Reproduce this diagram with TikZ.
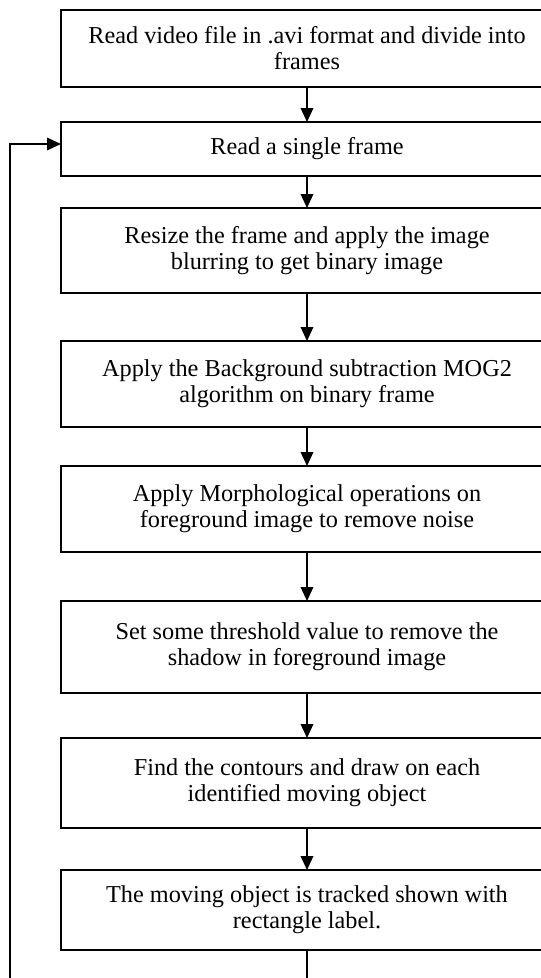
\documentclass[tikz,border=0pt]{standalone}
\usepackage{fontspec}
\setmainfont{Liberation Serif}
\usetikzlibrary{arrows.meta}
\begin{document}
\begin{tikzpicture}[x=0.75pt,y=-0.75pt,
  stepbox/.style={draw, line width=1pt, minimum width=369pt, inner sep=0pt,
    outer sep=0pt, align=center, font=\fontsize{18.2}{19.5}\selectfont},
  flow/.style={draw, line width=1pt, -{Triangle[width=9.5pt,length=10.5pt]}}]
\useasboundingbox (0,0) rectangle (541,978);
\clip (0,0) rectangle (541,978);
\fill[white] (0,0) rectangle (541,978);

% processing steps
\node[stepbox, minimum height=57.75pt] (b1) at (307,48.5)
  {Read video file in .avi format and divide into\\frames};
\node[stepbox, minimum height=40.5pt] (b2) at (307,149)
  {Read a single frame};
\node[stepbox, minimum height=63.75pt] (b3) at (307,250.5)
  {Resize the frame and apply the image\\blurring to get binary image};
\node[stepbox, minimum height=64.5pt] (b4) at (307,384)
  {Apply the Background subtraction MOG2\\algorithm on binary frame};
\node[stepbox, minimum height=64.5pt] (b5) at (307,509)
  {Apply Morphological operations on\\foreground image to remove noise};
\node[stepbox, minimum height=69pt] (b6) at (307,647)
  {Set some threshold value to remove the\\shadow in foreground image};
\node[stepbox, minimum height=67.5pt] (b7) at (307,783)
  {Find the contours and draw on each\\identified moving object};
\node[stepbox, minimum height=60pt] (b8) at (307,910)
  {The moving object is tracked shown with\\rectangle label.};

% forward flow
\draw[flow] (b1) -- (b2);
\draw[flow] (b2) -- (b3);
\draw[flow] (b3) -- (b4);
\draw[flow] (b4) -- (b5);
\draw[flow] (b5) -- (b6);
\draw[flow] (b6) -- (b7);
\draw[flow] (b7) -- (b8);

% loop back to the next frame
\coordinate (lowright) at (307,1000);
\coordinate (lowleft) at (10,1000);
\coordinate (ret) at (10,144);
\draw[flow] (b8.south) -- (lowright) -- (lowleft) -- (ret) -- (ret -| b2.west);
\end{tikzpicture}
\end{document}
